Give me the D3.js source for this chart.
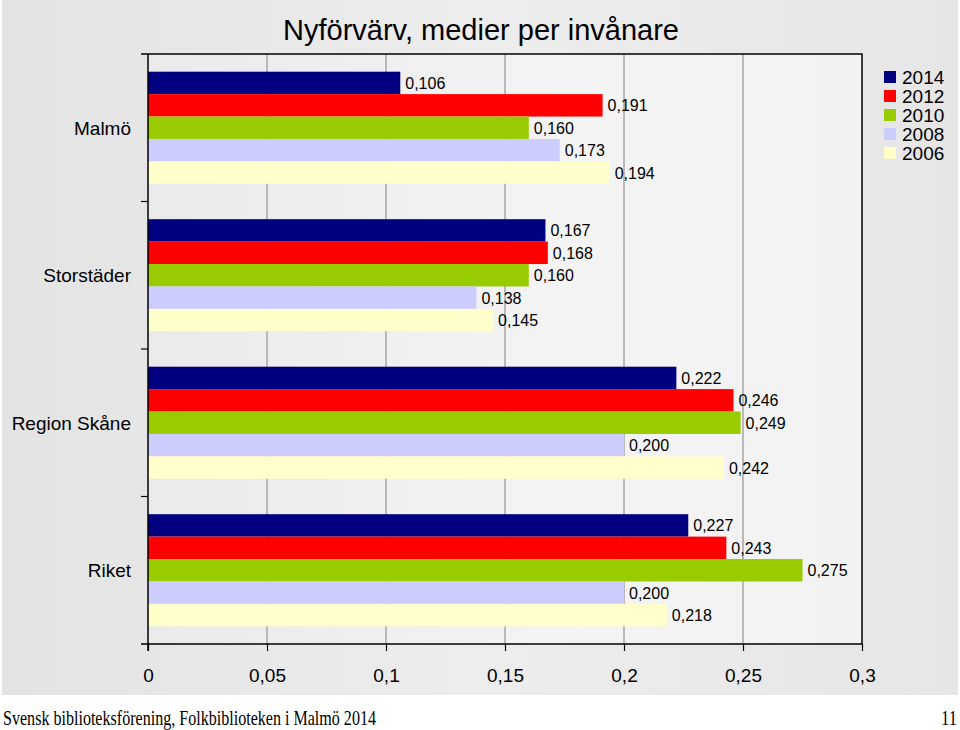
<!DOCTYPE html>
<html><head><meta charset="utf-8">
<script src="https://cdn.jsdelivr.net/npm/d3@7"></script>
<style>body{margin:0;background:#fff}svg{display:block}</style>
</head><body>
<svg id="c" width="960" height="730"></svg>
<script>
const categories = ["Malmö", "Storstäder", "Region Skåne", "Riket"];
const years = ["2014", "2012", "2010", "2008", "2006"];
const colors = ["#000080", "#ff0000", "#99cc00", "#ccccff", "#ffffcc"];
const v2014 = [0.106, 0.167, 0.222, 0.227];
const v2012 = [0.191, 0.168, 0.246, 0.243];
const v2010 = [0.160, 0.160, 0.249, 0.275];
const v2008 = [0.173, 0.138, 0.200, 0.200];
const v2006 = [0.194, 0.145, 0.242, 0.218];
const xTicks = [0, 0.05, 0.1, 0.15, 0.2, 0.25, 0.3];
const title = "Nyförvärv, medier per invånare";
const footer = "Svensk biblioteksförening, Folkbiblioteken i Malmö 2014";
const pageNo = "11";

const series = [v2014, v2012, v2010, v2008, v2006];
const svg = d3.select("#c");
const defs = svg.append("defs");
const g1 = defs.append("linearGradient").attr("id","bg").attr("x1","0").attr("x2","1").attr("y1","0").attr("y2","0");
g1.append("stop").attr("offset","0").attr("stop-color","#e3e3e3");
g1.append("stop").attr("offset","0.5").attr("stop-color","#ededed");
g1.append("stop").attr("offset","1").attr("stop-color","#e6e6e6");
const g2 = defs.append("linearGradient").attr("id","pl").attr("x1","0").attr("x2","1").attr("y1","0").attr("y2","0");
g2.append("stop").attr("offset","0").attr("stop-color","#eaeaea");
g2.append("stop").attr("offset","0.6").attr("stop-color","#f4f4f4");
g2.append("stop").attr("offset","1").attr("stop-color","#f2f2f2");

const FONT = "Arial, 'Liberation Sans', sans-serif";
svg.append("rect").attr("x",2).attr("y",0).attr("width",956).attr("height",695).attr("fill","url(#bg)");

const L = 148, R = 862, T = 54, B = 644;
const x = d3.scaleLinear().domain([0, 0.3]).range([L, R]);
const y = d3.scaleBand().domain(categories).range([T, B]).paddingInner(0.24).paddingOuter(0.12);
const ys = d3.scaleBand().domain(years).range([0, y.bandwidth()]);
const fmt = d => d3.format(".3f")(d).replace(".", ",");
const fmtTick = d => String(d).replace(".", ",");

svg.append("rect").attr("x",L).attr("y",T).attr("width",R-L).attr("height",B-T).attr("fill","url(#pl)");

// gridlines
svg.append("g").selectAll("line").data(xTicks.slice(1, -1)).join("line")
  .attr("x1", d => x(d)).attr("x2", d => x(d)).attr("y1", T).attr("y2", B)
  .attr("stroke", "#a6a6a6").attr("stroke-width", 1.5);

// bars
const groups = svg.append("g").selectAll("g").data(categories).join("g")
  .attr("transform", c => `translate(0,${y(c)})`);
years.forEach((yr, si) => {
  groups.append("rect")
    .attr("x", L)
    .attr("y", ys(yr))
    .attr("width", (c, i) => x(series[si][i]) - L)
    .attr("height", ys.bandwidth())
    .attr("fill", colors[si]);
});
years.forEach((yr, si) => {
  groups.append("text")
    .attr("x", (c, i) => x(series[si][i]) + 5)
    .attr("y", ys(yr) + ys.bandwidth() / 2)
    .attr("dy", "0.38em")
    .attr("font-family", FONT)
    .attr("font-size", 16)
    .attr("fill", "#000")
    .text((c, i) => fmt(series[si][i]));
});

// frame lines
svg.append("line").attr("x1",141).attr("x2",R+0.5).attr("y1",T).attr("y2",T).attr("stroke","#000").attr("stroke-width",1.5);
svg.append("line").attr("x1",R).attr("x2",R).attr("y1",T).attr("y2",B).attr("stroke","#000").attr("stroke-width",1.5);

// x axis
const xa = svg.append("g").attr("transform", `translate(0,${B})`)
  .call(d3.axisBottom(x).tickValues(xTicks).tickFormat(fmtTick).tickSize(7).tickPadding(18));
xa.select(".domain").attr("d", `M141,0H${R}`).attr("stroke","#000").attr("stroke-width",1.5);
xa.selectAll(".tick line").attr("stroke","#000").attr("stroke-width",1.2);
xa.selectAll("text").attr("font-family",FONT).attr("font-size",19).attr("fill","#000");

// y axis
const ya = svg.append("g").attr("transform", `translate(${L},0)`);
ya.append("line").attr("x1",0).attr("x2",0).attr("y1",T).attr("y2",B+7).attr("stroke","#000").attr("stroke-width",1.5);
const bounds = d3.range(1, categories.length).map(i => T + i * (B - T) / categories.length);
ya.selectAll(".tk").data(bounds).join("line").attr("class","tk")
  .attr("x1",-7).attr("x2",0).attr("y1",d=>d).attr("y2",d=>d).attr("stroke","#000").attr("stroke-width",1.2);
svg.append("g").selectAll("text").data(categories).join("text")
  .attr("x", 131).attr("y", c => y(c) + y.bandwidth() / 2).attr("dy","0.36em")
  .attr("text-anchor","end")
  .attr("font-family",FONT).attr("font-size",19).attr("fill","#000")
  .text(c => c);

// title
svg.append("text").attr("x", 481).attr("y", 40).attr("text-anchor","middle")
  .attr("font-family",FONT).attr("font-size",29).attr("fill","#000")
  .text(title);

// legend
const lg = svg.append("g").attr("transform","translate(884,68)");
years.forEach((yr, i) => {
  lg.append("rect").attr("x",0).attr("y",i*19+3).attr("width",12).attr("height",12).attr("fill",colors[i]);
  lg.append("text").attr("x",18).attr("y",i*19+9).attr("dy","0.36em")
    .attr("font-family",FONT).attr("font-size",19).attr("fill","#000").text(yr);
});

// footer
svg.append("text").attr("x",3).attr("y",725)
  .attr("font-family","'Liberation Serif', 'DejaVu Serif', serif").attr("font-size",21)
  .attr("textLength",373).attr("lengthAdjust","spacingAndGlyphs").attr("fill","#000").text(footer);
svg.append("text").attr("x",957).attr("y",725).attr("text-anchor","end")
  .attr("font-family","'Liberation Serif', 'DejaVu Serif', serif").attr("font-size",21)
  .attr("textLength",16).attr("lengthAdjust","spacingAndGlyphs").attr("fill","#000").text(pageNo);
</script>
</body></html>
